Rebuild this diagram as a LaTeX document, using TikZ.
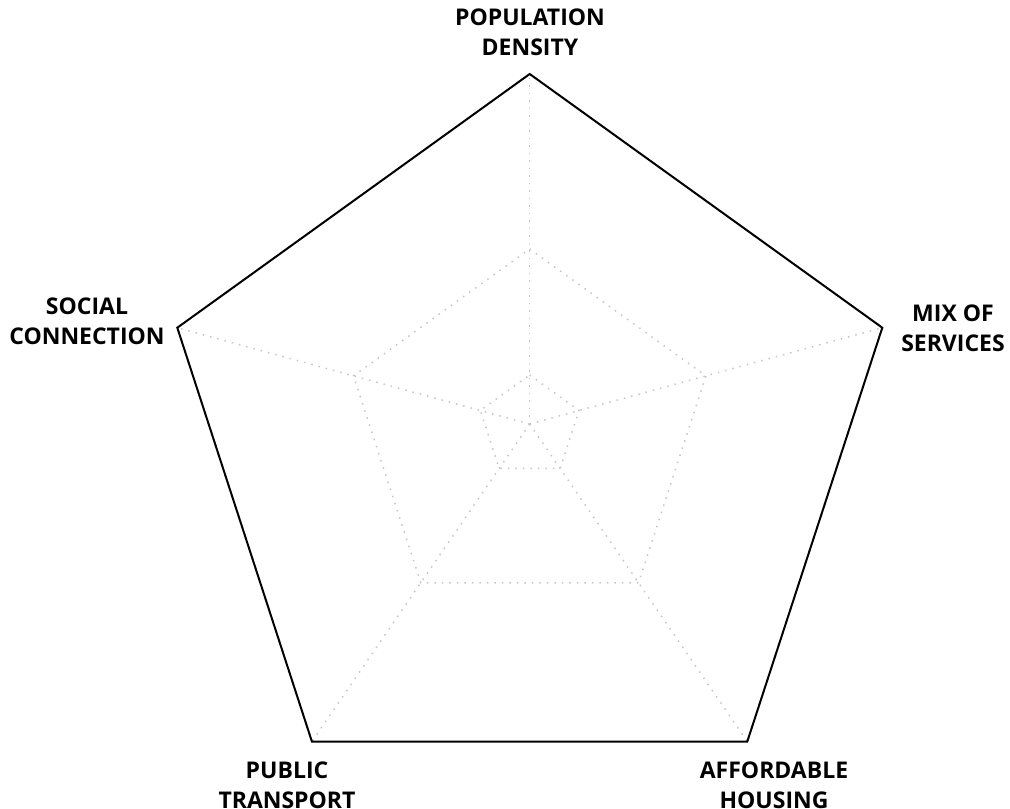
\documentclass[tikz,border=0pt]{standalone}
\usepackage{fontspec}
\newfontfamily\axisfont{Open Sans}
\usetikzlibrary{calc}
\tikzset{
    radar/.style={
        x=1pt, y=-1pt,
        % griglia tratteggiata (assi e livelli)
        gridline/.style={draw=gray!45, line width=1.5pt,
                         dash pattern=on 1.5pt off 6pt},
        % bordo esterno del pentagono
        frame/.style={draw=black, line width=2pt, line join=miter},
        % etichette degli assi
        axislabel/.style={align=center, inner sep=0pt,
                          font=\axisfont\bfseries\fontsize{23}{30}\selectfont}
    }
}
\begin{document}
\begin{tikzpicture}[radar]
    \useasboundingbox (0,0) rectangle (1010,809);
    \coordinate (c)  at (529.7,424);
    \coordinate (pd) at (529.7,74);
    \coordinate (ms) at (882.3,327.7);
    \coordinate (ah) at (747.3,741.5);
    \coordinate (pt) at (311.9,741.5);
    \coordinate (sc) at (177.3,327.7);
    \foreach \f in {0.14,0.5}
        \draw[gridline] ($(c)!\f!(pd)$) -- ($(c)!\f!(ms)$) -- ($(c)!\f!(ah)$)
            -- ($(c)!\f!(pt)$) -- ($(c)!\f!(sc)$) -- cycle;
    \foreach \v in {pd,ms,ah,pt,sc}
        \draw[gridline] (c) -- (\v);
    \draw[frame] (pd) -- (ms) -- (ah) -- (pt) -- (sc) -- cycle;
    \node[axislabel] (lpd) at (530,32.5)  {POPULATION\\DENSITY};
    \node[axislabel] (lms) at (953,328.5) {MIX OF\\SERVICES};
    \node[axislabel] (lah) at (774,785.5) {AFFORDABLE\\HOUSING};
    \node[axislabel] (lpt) at (287,785.5) {PUBLIC\\TRANSPORT};
    \node[axislabel] (lsc) at (87,321)    {SOCIAL\\CONNECTION};
\end{tikzpicture}
\end{document}
